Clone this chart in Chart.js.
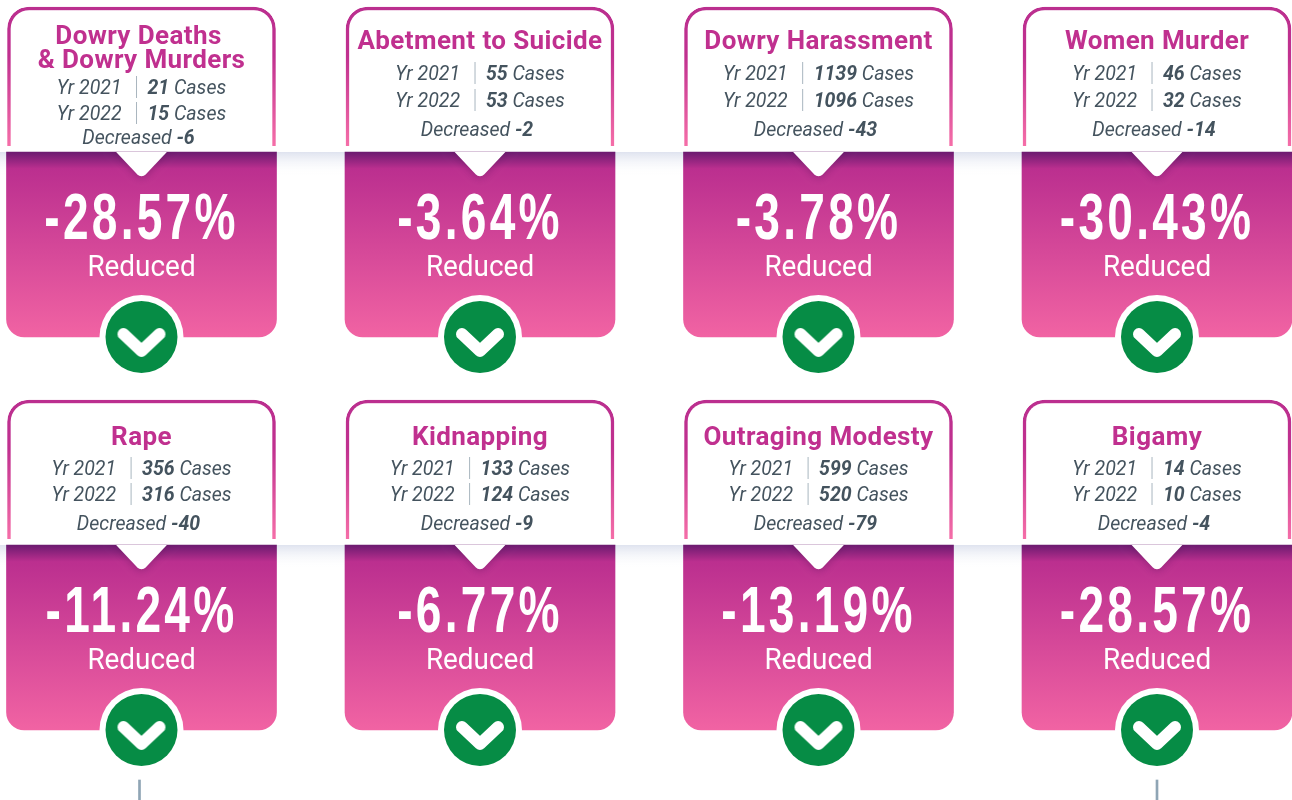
<!DOCTYPE html>
<html><head><meta charset="utf-8">
<style>html,body{margin:0;padding:0;background:#fff}#wrap{position:absolute;left:0;top:0;width:1292px;height:800px}</style>
<script src="https://cdn.jsdelivr.net/npm/chart.js@4"></script>
</head><body><div id="wrap"><canvas id="c" width="1292" height="800"></canvas></div>
<script>
const categories = [["Dowry Deaths","& Dowry Murders"],["Abetment to Suicide"],["Dowry Harassment"],["Women Murder"],["Rape"],["Kidnapping"],["Outraging Modesty"],["Bigamy"]];
const cases2021 = [21,55,1139,46,356,133,599,14];
const cases2022 = [15,53,1096,32,316,124,520,10];
const decreased = [-6,-2,-43,-14,-40,-9,-79,-4];
const percentChange = [-28.57,-3.64,-3.78,-30.43,-11.24,-6.77,-13.19,-28.57];
const columns = [1,2,3,4,1,2,3,4];
const rows = [0,0,0,0,1,1,1,1];
const stubColumns = [1,4];

const ROW_H = 393, COL_W = 338.5, X0 = 141.5;
const xMin = 1 - X0/COL_W, xMax = 1 + (1292-X0)/COL_W;
const cardTop = r => 7 + r*ROW_H, cardBot = r => 146 + r*ROW_H;
const panTop = r => 152 + r*ROW_H, panBot = r => 337 + r*ROW_H;

function grad(chart, y0, y1, stops){
  const g = chart.ctx.createLinearGradient(0,y0,0,y1);
  stops.forEach(s=>g.addColorStop(s[0],s[1]));
  return g;
}
const chev = document.createElement('canvas'); chev.width = 60; chev.height = 44;
(()=>{const c=chev.getContext('2d');c.strokeStyle='#fff';c.lineWidth=12;c.lineCap='round';c.lineJoin='round';
 c.beginPath();c.moveTo(12,11);c.lineTo(30,28);c.lineTo(48,11);c.stroke();})();

const cardData = columns.map((c,i)=>({x:c,y:[cardTop(rows[i]),cardBot(rows[i])],r:rows[i]}));
const panelData = columns.map((c,i)=>({x:c,y:[panTop(rows[i]),panBot(rows[i])],r:rows[i]}));
const badgeData = columns.map((c,i)=>({x:c,y:panBot(rows[i])}));
const chevData = columns.map((c,i)=>({x:c,y:panBot(rows[i])+8}));
const stubData = stubColumns.map(c=>({x:c===1?c-2/COL_W:c,y:[780,800]}));

const INK='#44535e', TITLE='#c0308f';
const BIG='"Liberation Sans"', BODY='Roboto';

function segW(ctx,segs){return segs.reduce((w,s)=>{ctx.font=s.f;return w+ctx.measureText(s.t).width},0)}
function drawSegs(ctx,segs,x,y){segs.forEach(s=>{ctx.font=s.f;ctx.fillText(s.t,x,y);x+=ctx.measureText(s.t).width})}

const textPlugin = {
 id:'cards',
 beforeDatasetsDraw(chart){
   const ctx=chart.ctx;
   [0,1].forEach(r=>{
     const y=panTop(r);
     ctx.fillStyle=grad(chart,y,y+24,[[0,'#dfe3ef'],[1,'rgba(255,255,255,0)']]);
     ctx.fillRect(0,y,1292,24);
   });
 },
 afterDatasetDraw(chart,args){
   if(chart.data.datasets[args.index].label!=='panel') return;
   const ctx=chart.ctx, xs=chart.scales.x;
   columns.forEach((c,i)=>{
     const cx=xs.getPixelForValue(c), y=panTop(rows[i]);
     ctx.save();
     ctx.beginPath();ctx.rect(cx-135,y,270,50);ctx.clip();
     ctx.shadowColor='rgba(90,20,90,.45)';ctx.shadowBlur=8;ctx.shadowOffsetY=1;
     ctx.fillStyle='#fff';
     ctx.beginPath();ctx.moveTo(cx-31,y-6);ctx.lineTo(cx+31,y-6);
     ctx.arcTo(cx,y+27,cx-31,y-6,6);ctx.lineTo(cx-31,y-6);ctx.closePath();ctx.fill();
     ctx.restore();
   });
 },
 afterDatasetsDraw(chart){
   const ctx=chart.ctx, xs=chart.scales.x;
   ctx.save();
   ctx.textBaseline='alphabetic';
   categories.forEach((lines,i)=>{
     const cx=xs.getPixelForValue(columns[i]), r=rows[i], oy=r*ROW_H;
     const two=lines.length>1;
     ctx.textAlign='center';
     ctx.fillStyle=TITLE;ctx.font='700 26px '+BODY;
     ctx.letterSpacing='0.4px';
     if(two){ctx.fillText(lines[0],cx-3,44);ctx.fillText(lines[1],cx,68);}
     else ctx.fillText(lines[0],cx,oy+(r?52:49));
     ctx.letterSpacing='0px';
     const y1=two?94:oy+(r?82:80), y2=two?120:oy+(r?108:107), y3=two?144:oy+(r?137:136);
     ctx.textAlign='left';
     ctx.fillStyle=INK;
     const reg='italic 400 19.5px '+BODY, bold='italic 700 19.5px '+BODY;
     const left=[`Yr 2021`,`Yr 2022`], right=[cases2021[i],cases2022[i]];
     ctx.font=reg;const lw=Math.max(ctx.measureText(left[0]).width,ctx.measureText(left[1]).width);
     const rsegs=right.map(v=>[{t:String(v),f:bold},{t:' Cases',f:reg}]);
     const rw=Math.max(segW(ctx,rsegs[0]),segW(ctx,rsegs[1]));
     const gapL=15, gapR=11, total=lw+gapL+gapR+rw, sx=cx-total/2, rx=sx+lw+gapL+gapR;
     [y1,y2].forEach((y,k)=>{
       ctx.fillStyle=INK;ctx.font=reg;ctx.fillText(left[k],sx,y);
       drawSegs(ctx,rsegs[k],rx,y);
       ctx.fillStyle='#a9b6bf';ctx.fillRect(sx+lw+gapL-0.5,y-18,1,22);
       ctx.fillStyle=INK;
     });
     const dsegs=[{t:'Decreased ',f:reg},{t:String(decreased[i]),f:bold}];
     drawSegs(ctx,dsegs,cx-3-segW(ctx,dsegs)/2,y3);
     ctx.textAlign='center';ctx.fillStyle='#fff';
     ctx.save();
     ctx.translate(cx,oy+239);ctx.scale(0.72,1);
     ctx.font='700 64px '+BIG;
     ctx.letterSpacing='4.5px';
     ctx.fillText(percentChange[i].toFixed(2)+'%',0,0);
     ctx.restore();
     ctx.save();
     ctx.translate(cx,oy+276);ctx.scale(0.93,1);
     ctx.font='400 30px '+BODY;
     ctx.fillText('Reduced',0,0);
     ctx.restore();
   });
   ctx.restore();
 }
};

new Chart(document.getElementById('c'),{
 data:{datasets:[
  {type:'scatter',label:'check',data:chevData,order:0,pointStyle:chev,pointRadius:1,showLine:false},
  {type:'scatter',label:'badge',data:badgeData,order:1,pointRadius:36,pointBackgroundColor:'#068c45',pointBorderWidth:0,pointHoverRadius:36},
  {type:'scatter',label:'ring',data:badgeData,order:2,pointRadius:42,pointBackgroundColor:'#fff',pointBorderWidth:0,pointHoverRadius:42},
  {type:'bar',label:'panel',data:panelData,order:3,barThickness:270,borderSkipped:false,grouped:false,
   borderRadius:{topLeft:0,topRight:0,bottomLeft:18,bottomRight:18},
   backgroundColor:c=>{const d=c.raw;return d?grad(c.chart,panTop(d.r),panBot(d.r),[[0,'#6c1b70'],[0.09,'#bb2f8f'],[1,'#f163a3']]):'#c0308f'}},
  {type:'bar',label:'card',data:cardData,order:4,barThickness:268,borderSkipped:'top',borderWidth:3.5,backgroundColor:'#fff',grouped:false,
   borderRadius:{topLeft:22,topRight:22,bottomLeft:0,bottomRight:0},
   borderColor:c=>{const d=c.raw;return d?grad(c.chart,cardTop(d.r),cardBot(d.r),[[0,'#bb2f8f'],[0.35,'#c0308f'],[1,'#f56ea8']]):'#c0308f'}},
  {type:'bar',label:'stub',data:stubData,order:5,barThickness:2,backgroundColor:'#8fa5b5',borderSkipped:false,grouped:false}
 ]},
 options:{
  responsive:false,animation:false,events:[],
  layout:{padding:0,autoPadding:false},
  clip:false,
  plugins:{legend:{display:false},tooltip:{enabled:false},title:{display:false}},
  scales:{
   x:{type:'linear',min:xMin,max:xMax,display:false,offset:false,grid:{display:false}},
   y:{type:'linear',min:0,max:800,reverse:true,display:false,grid:{display:false}}
  }
 },
 plugins:[textPlugin]
});
</script></body></html>
